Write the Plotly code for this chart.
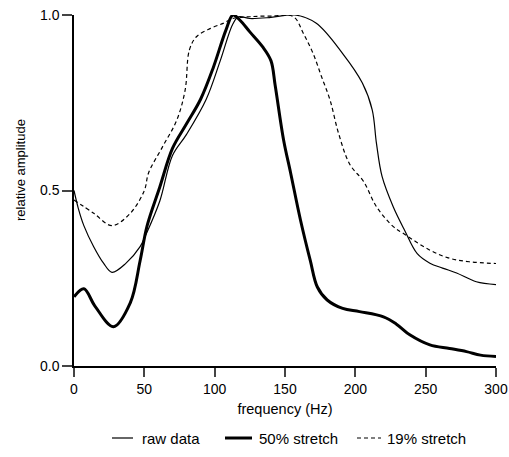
import plotly.graph_objects as go

# frequency (Hz) / relative amplitude
raw_f = [0, 3, 7, 14, 21, 27, 37, 47, 51, 61, 70, 80, 94, 104, 113, 117, 125, 140, 157,
         172, 191, 205, 212, 215, 219, 227, 235, 244, 253, 262, 272, 286, 300]
raw_a = [0.50, 0.45, 0.40, 0.34, 0.293, 0.267, 0.293, 0.34, 0.373, 0.47, 0.60, 0.66, 0.76, 0.87, 0.975, 0.995, 0.99, 0.993, 1.0,
         0.977, 0.89, 0.806, 0.73, 0.635, 0.54, 0.453, 0.387, 0.32, 0.293, 0.279, 0.265, 0.24, 0.232]

s50_f = [0, 7, 15, 28, 40, 47, 52, 61, 70, 80, 90, 99, 108, 113, 118, 125, 134, 140, 143, 149,
         154, 161, 168, 173, 180, 191, 203, 220, 229, 239, 253, 267, 279, 289, 300]
s50_a = [0.197, 0.22, 0.17, 0.112, 0.18, 0.30, 0.40, 0.51, 0.62, 0.69, 0.76, 0.85, 0.957, 1.0, 0.985, 0.952, 0.91, 0.87, 0.80, 0.644,
         0.55, 0.416, 0.30, 0.225, 0.188, 0.164, 0.155, 0.14, 0.12, 0.088, 0.06, 0.05, 0.041, 0.031, 0.027]

s19_f = [0, 14, 27, 40, 50, 53, 63, 73, 79, 82, 87, 97, 106, 113, 125, 140, 156, 163, 170, 176,
         182, 188, 196, 206, 215, 227, 234, 253, 267, 281, 300]
s19_a = [0.473, 0.435, 0.40, 0.435, 0.50, 0.55, 0.625, 0.70, 0.786, 0.90, 0.938, 0.962, 0.976, 0.99, 0.995, 0.997, 0.995, 0.948, 0.89, 0.824,
         0.758, 0.664, 0.575, 0.525, 0.454, 0.397, 0.378, 0.33, 0.307, 0.297, 0.292]

x_ticks = [0, 50, 100, 150, 200, 250, 300]
y_ticks = [0.0, 0.5, 1.0]
y_labels = ["0.0", "0.5", "1.0"]
names = ["raw data", "50% stretch", "19% stretch"]

FONT = "Liberation Sans"

fig = go.Figure()
fig.add_trace(go.Scatter(x=raw_f, y=raw_a, mode="lines", name=names[0],
                         line=dict(color="black", width=1.2, shape="spline", smoothing=1)))
fig.add_trace(go.Scatter(x=s50_f, y=s50_a, mode="lines", name=names[1],
                         line=dict(color="black", width=3, shape="spline", smoothing=1)))
fig.add_trace(go.Scatter(x=s19_f, y=s19_a, mode="lines", name=names[2],
                         line=dict(color="black", width=1.2, dash="4px,3px", shape="spline", smoothing=1)))

# hand-made legend below the axis title (page pixel -> paper coords)
W, H = 422, 351  # plot area size in px
def px(x):
    return (x - 74) / W
def py(y):
    return (366 - y) / H

legend_items = [(112, 133, 140, dict(width=1.2)),
                (225, 252, 257, dict(width=3)),
                (357, 381, 385, dict(width=1.2, dash="4px,3px"))]
for (x0, x1, tx, ln), name in zip(legend_items, names):
    fig.add_shape(type="line", xref="paper", yref="paper", x0=px(x0), x1=px(x1),
                  y0=py(438), y1=py(438), line=dict(color="black", **ln))
    fig.add_annotation(xref="paper", yref="paper", x=px(tx), y=py(438), text=name,
                       showarrow=False, xanchor="left", yanchor="middle",
                       font=dict(family=FONT, size=15, color="black"))

fig.add_annotation(xref="paper", yref="paper", x=px(20), y=py(170), text="relative amplitude",
                   textangle=-90, showarrow=False, xanchor="center", yanchor="middle",
                   font=dict(family=FONT, size=13, color="black"))

fig.update_layout(
    width=509, height=457,
    margin=dict(l=74, r=13, t=15, b=91),
    plot_bgcolor="white", paper_bgcolor="white",
    showlegend=False,
    font=dict(family=FONT, size=14, color="black"),
    xaxis=dict(range=[0, 300], tickvals=x_ticks, ticks="outside", ticklen=9, tickwidth=1.5,
               showline=True, linecolor="black", linewidth=1.5, showgrid=False, zeroline=False,
               automargin=False, tickfont=dict(size=14), ticklabeloverflow="allow",
               title=dict(text="frequency (Hz)", standoff=8, font=dict(size=14.5))),
    yaxis=dict(range=[0, 1], tickvals=y_ticks, ticktext=y_labels, ticks="outside", ticklen=10,
               tickwidth=1.5, showline=True, linecolor="black", linewidth=1.5,
               showgrid=False, zeroline=False, automargin=False, tickfont=dict(size=14),
               ticklabeloverflow="allow"),
)

# drop the browser's default body margin so the figure sits at the page corner
fig.write_html("out.html", config={"displayModeBar": False},
               post_script="document.body.style.margin='0';")
